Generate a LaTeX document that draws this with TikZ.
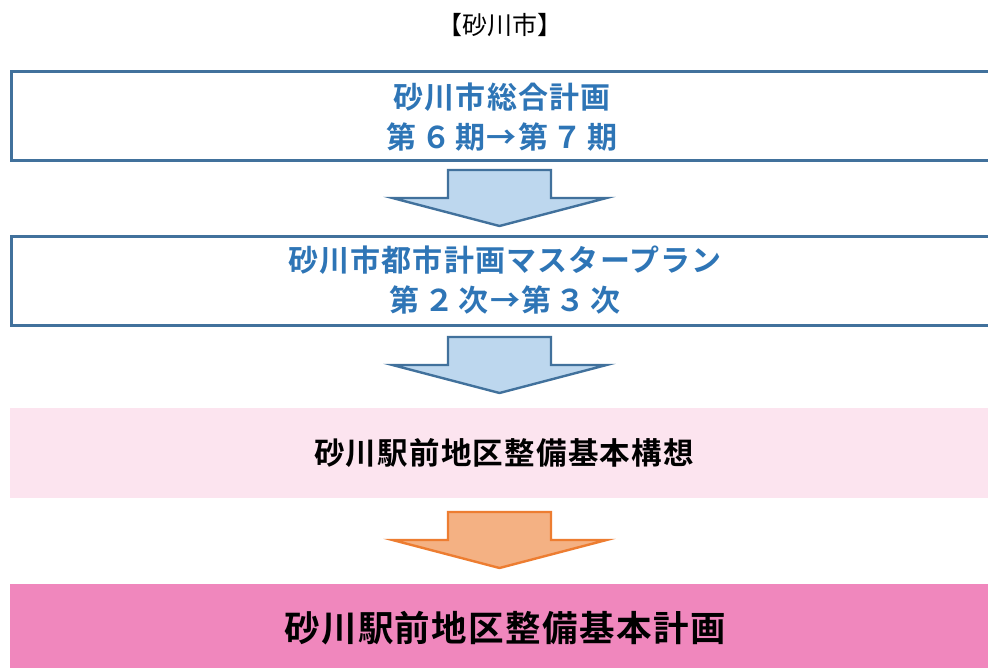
\documentclass[tikz,border=0pt]{standalone}
\usepackage{fontspec}
\newfontfamily\jp{Noto Sans CJK JP}
\newfontfamily\jpb{Noto Sans CJK JP Bold}[LetterSpace=4]
\definecolor{boxblue}{HTML}{41719C}
\definecolor{txtblue}{HTML}{2E75B6}
\definecolor{arrowblue}{HTML}{BDD7EE}
\definecolor{pinklight}{HTML}{FCE4EF}
\definecolor{pinkdark}{HTML}{F087BD}
\definecolor{orangefill}{HTML}{F4B183}
\definecolor{orangeline}{HTML}{ED7D31}
\newcommand{\dg}[1]{\hspace{4.5pt}#1\hspace{4.5pt}}
\tikzset{
  framebox/.style={draw=boxblue, line width=2.6pt, fill=white, anchor=north west, inner sep=0pt, minimum width=990pt, minimum height=89pt},
  fillbox/.style={anchor=north west, inner sep=0pt, minimum width=990pt, minimum height=90pt},
  bluetext/.style={text=txtblue, align=center, inner sep=0pt},
  blacktext/.style={text=black, align=center, inner sep=0pt},
  bluearrow/.style={draw=boxblue, fill=arrowblue, line width=2.4pt, line join=miter},
  orangearrow/.style={draw=orangeline, fill=orangefill, line width=2.4pt, line join=miter},
  blockarrow/.pic={\path[pic actions] (-51.5,0) -- (51.5,0) -- (51.5,28) -- (107,28) -- (0,56) -- (-107,28) -- (-51.5,28) -- cycle;}
}
\begin{document}
\begin{tikzpicture}[x=1pt,y=-1pt]
\useasboundingbox (0,0) rectangle (988,668);
\clip (0,0) rectangle (988,668);
\fill[white] (0,0) rectangle (988,668);
% title
\node[blacktext, font=\jp\fontsize{25}{30}\selectfont] (title) at (500,25) {【砂川市】};
% box 1
\node[framebox] (b1) at (10,70.5) {};
\node[bluetext, font=\jpb\fontsize{30}{40}\selectfont] (t1) at (502,117) {砂川市総合計画\\第\dg{６}期→第\dg{７}期};
% arrow 1
\pic[bluearrow] at (499.5,170) {blockarrow};
% box 2
\node[framebox] (b2) at (10,235) {};
\node[bluetext, font=\jpb\fontsize{30}{40}\selectfont] (t2) at (505,280) {砂川市都市計画マスタープラン\\第\dg{２}次→第\dg{３}次};
% arrow 2
\pic[bluearrow] at (499.5,337) {blockarrow};
% box 3
\node[fillbox, fill=pinklight] (b3) at (10,408) {};
\node[blacktext, font=\jpb\fontsize{30.5}{34}\selectfont] (t3) at (504,453) {砂川駅前地区整備基本構想};
% arrow 3
\pic[orangearrow] at (499.5,512) {blockarrow};
% box 4
\node[fillbox, fill=pinkdark] (b4) at (10,584) {};
\node[blacktext, font=\jpb\fontsize{35.5}{40}\selectfont] (t4) at (505,628) {砂川駅前地区整備基本計画};
\end{tikzpicture}
\end{document}
